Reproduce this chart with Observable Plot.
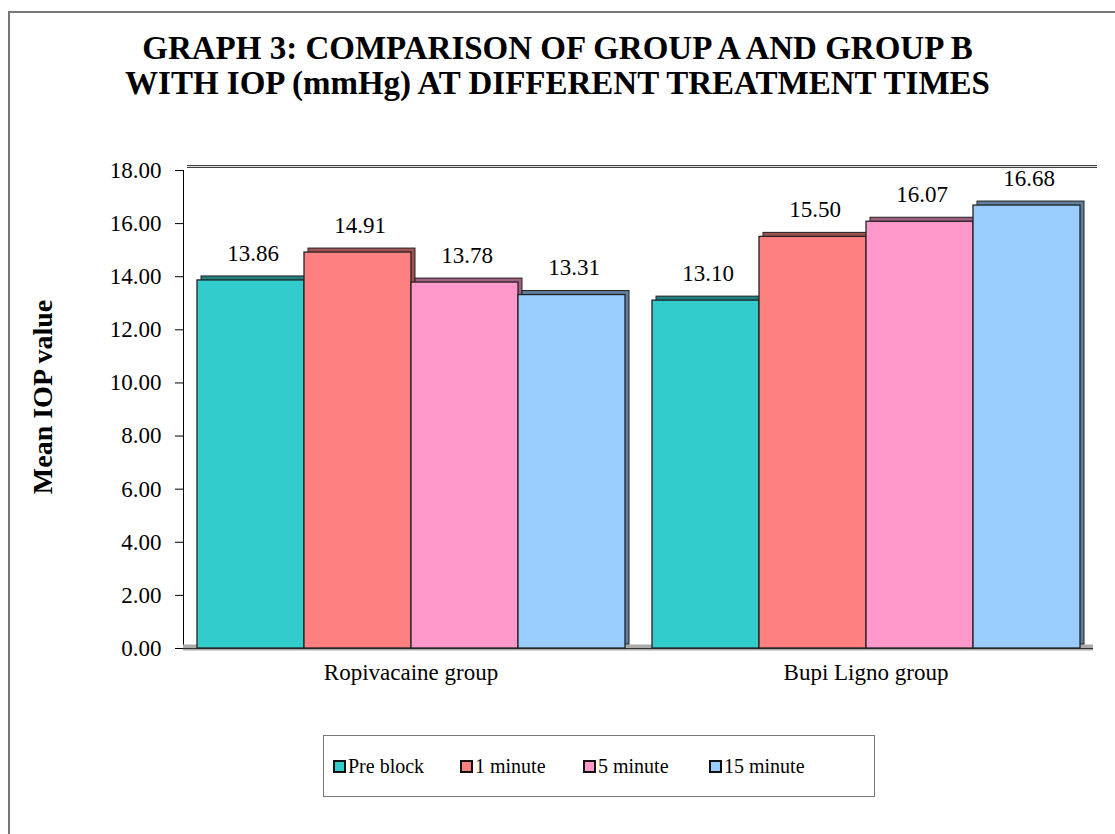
<!DOCTYPE html>
<html>
<head>
<meta charset="utf-8">
<script src="https://cdn.jsdelivr.net/npm/d3@7"></script>
<script src="https://cdn.jsdelivr.net/npm/@observablehq/plot@0.6"></script>
<style>
  html, body { margin: 0; padding: 0; background: #fff; overflow: hidden; }
  #page { position: relative; width: 1115px; height: 834px; overflow: hidden; font-family: 'Liberation Serif', 'DejaVu Serif', serif; }
  #border { position: absolute; left: 8px; top: 11px; width: 1300px; height: 1000px; border-left: 2px solid #777; border-top: 2px solid #777; }
  #title { position: absolute; left: 0; top: 31px; width: 1115px; text-align: center; font-weight: bold; font-size: 33px; line-height: 35px; color: #000; }
  #ylabel { position: absolute; left: 43px; top: 397px; transform: translate(-50%, -50%) rotate(-90deg); font-weight: bold; font-size: 28px; white-space: nowrap; }
  #chart { position: absolute; left: 0; top: 150px; }
  #legend { position: absolute; left: 323px; top: 735px; width: 550px; height: 60px; border: 1.5px solid #777; font-size: 20px; }
  .item { position: absolute; top: 0; height: 60px; display: flex; align-items: center; white-space: nowrap; }
  .sw { width: 9px; height: 9px; border: 2px solid #111; margin-right: 2px; }
</style>
</head>
<body>
<div id="page">
  <div id="border"></div>
  <div id="title">GRAPH 3: COMPARISON OF GROUP A AND GROUP B<br>WITH IOP (mmHg) AT DIFFERENT TREATMENT TIMES</div>
  <div id="ylabel">Mean IOP value</div>
  <div id="chart"></div>
  <div id="legend"></div>
</div>
<script>
const groups = ["Ropivacaine group", "Bupi Ligno group"];
const series = ["Pre block", "1 minute", "5 minute", "15 minute"];
const ropivacaine = [13.86, 14.91, 13.78, 13.31];
const bupiLigno = [13.10, 15.50, 16.07, 16.68];
const colors = ["#33CCCC", "#FF8080", "#FF99CC", "#99CCFF"];
const yTicks = [0, 2, 4, 6, 8, 10, 12, 14, 16, 18];

const values = [ropivacaine, bupiLigno];
const rows = [];
groups.forEach((g, gi) => series.forEach((s, si) => rows.push({group: g, series: s, value: values[gi][si], si})));
const dark = colors.map(c => d3.color(c).darker(1.3).formatHex());

const chart = Plot.plot({
  width: 1115,
  height: 540,
  marginLeft: 183,
  marginRight: 22,
  marginTop: 20,
  marginBottom: 42,
  style: {fontFamily: "'Liberation Serif', 'DejaVu Serif', serif", fontSize: "23px", color: "#000", background: "transparent"},
  fx: {domain: groups, padding: 0, label: null, axis: "bottom", tickSize: 0, tickPadding: 15},
  x: {domain: series, paddingInner: 0, paddingOuter: 0.125, axis: null},
  y: {domain: [0, yTicks[yTicks.length - 1]], ticks: yTicks, tickFormat: d => d.toFixed(2), label: null, tickSize: 8, tickPadding: 14, line: true},
  color: {domain: series, range: colors},
  marks: [
    Plot.ruleY([yTicks[yTicks.length - 1]], {stroke: "#444", strokeWidth: 3, dx: 4, dy: -4}),
    Plot.ruleY([yTicks[yTicks.length - 1]], {stroke: "#ddd", strokeWidth: 1, dx: 4, dy: -4}),
    Plot.ruleY([0], {stroke: "#aaa", strokeWidth: 6, dy: -1}),
    Plot.ruleY([0], {stroke: "#333", strokeWidth: 1}),
    Plot.barY(rows, {fx: "group", x: "series", y: "value", fill: d => dark[d.si], stroke: "#222", strokeWidth: 1, dx: 4, dy: -4}),
    Plot.barY(rows, {fx: "group", x: "series", y: "value", fill: "series", stroke: "#222", strokeWidth: 1.3}),
    Plot.text(rows, {fx: "group", x: "series", y: "value", text: d => d.value.toFixed(2), dy: -27, dx: 2, fontSize: 23, fill: "#000"})
  ]
});
document.getElementById("chart").appendChild(chart);

const legend = document.getElementById("legend");
const lx = [9, 136, 259, 385];
series.forEach((s, i) => {
  const it = document.createElement("div");
  it.className = "item";
  it.style.left = lx[i] + "px";
  const sw = document.createElement("span");
  sw.className = "sw";
  sw.style.background = colors[i];
  it.appendChild(sw);
  it.appendChild(document.createTextNode(s));
  legend.appendChild(it);
});
</script>
</body>
</html>
